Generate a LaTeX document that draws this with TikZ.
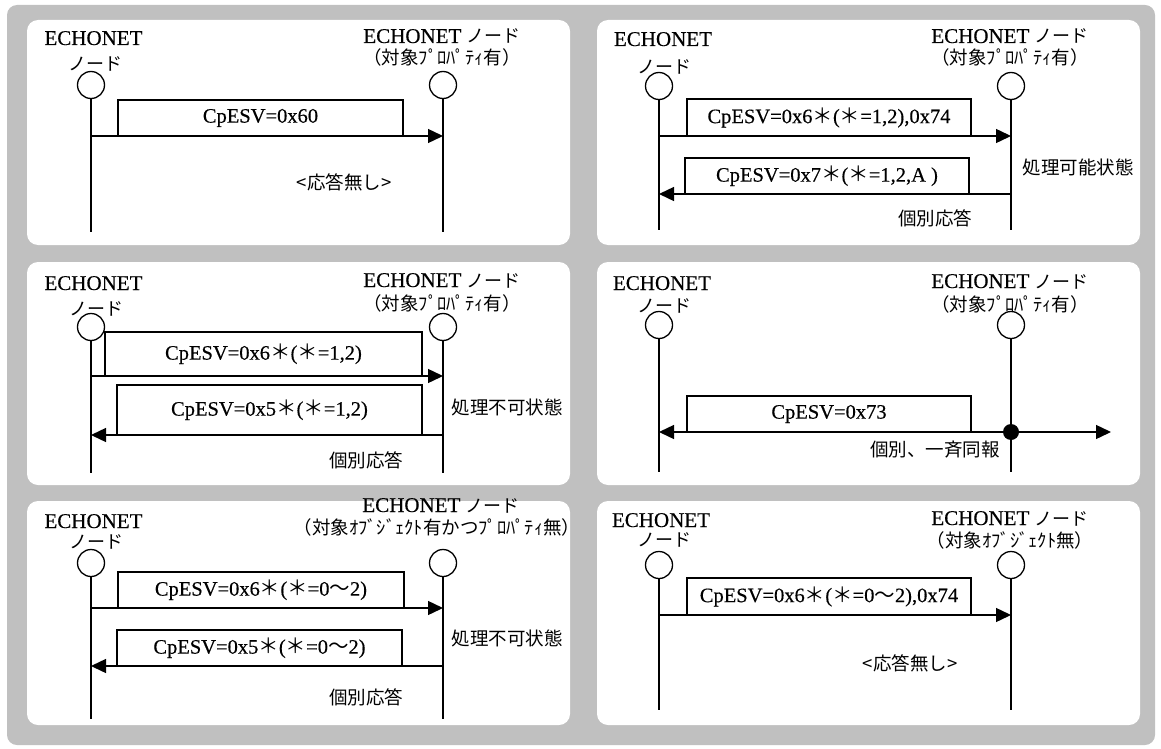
\documentclass[tikz,border=0pt]{standalone}
\usepackage{fontspec}
\setmainfont{Liberation Serif}[FakeBold=0.35]
\newfontfamily\jpf{Noto Sans CJK JP}
\usetikzlibrary{arrows.meta}
\definecolor{bggray}{RGB}{192,192,192}
\newcommand{\jpstar}{{\jpf ＊}}
\begin{document}
\begin{tikzpicture}[x=1pt,y=-1pt,
  panel/.style={fill=white, rounded corners=11pt},
  head/.style={draw, circle, line width=1.3pt, minimum size=27pt, inner sep=0pt, outer sep=0pt},
  life/.style={line width=1.4pt},
  msg/.style={draw, line width=1.3pt, inner sep=0pt, outer sep=0pt, anchor=south west, font=\fontsize{20.5}{22}\selectfont},
  msgarrow/.style={line width=1.4pt, -{Triangle[length=15pt,width=14pt]}},
  lat/.style={inner sep=0pt, anchor=base, font=\fontsize{21}{23}\selectfont},
  jhead/.style={inner sep=0pt, anchor=base, font=\jpf\fontsize{18}{20}\selectfont},
  jsub/.style={inner sep=0pt, anchor=base, font=\jpf\fontsize{18.5}{20}\selectfont},
  jnote/.style={inner sep=0pt, font=\jpf\fontsize{18.5}{20}\selectfont},
  bdot/.style={circle, fill, inner sep=0pt, minimum size=16pt}
]
\useasboundingbox (0,0) rectangle (1161,749);
\fill[white] (0,0) rectangle (1161,749);
\fill[bggray, rounded corners=10pt] (7,5) rectangle (1155,745);
% panels
\fill[panel] (27,20) rectangle (570,245);
\fill[panel] (597,20) rectangle (1140,245);
\fill[panel] (27,262) rectangle (570,485);
\fill[panel] (597,262) rectangle (1140,485);
\fill[panel] (27,501) rectangle (570,725);
\fill[panel] (597,501) rectangle (1140,725);

% ---------- Panel 1 ----------
\node[lat] (p1L) at (93.5,45) {ECHONET};
\node[jhead] (p1Lj) at (95,71) {ノード};
\node[lat] (p1R) at (442,43) {ECHONET {\jpf\fontsize{18}{20}\selectfont ノード}};
\node[jsub] (p1Rj) at (442,65) {（対象ﾌﾟﾛﾊﾟﾃｨ有）};
\node[head] (p1a) at (91,85) {};
\node[head] (p1b) at (443,85) {};
\coordinate (p1ae) at (91,232);
\coordinate (p1be) at (443,232);
\draw[life] (p1a) -- (p1ae);
\draw[life] (p1b) -- (p1be);
\node[msg, minimum width=285pt, minimum height=36pt] (p1m) at (118,136) {CpESV=0x60};
\draw[msgarrow] (p1a |- p1m.south) -- (p1b |- p1m.south);
\node[jnote] (p1n) at (344,182) {<応答無し>};

% ---------- Panel 2 ----------
\node[lat] (p2L) at (663,46) {ECHONET};
\node[jhead] (p2Lj) at (664,74) {ノード};
\node[lat] (p2R) at (1010,43) {ECHONET {\jpf\fontsize{18}{20}\selectfont ノード}};
\node[jsub] (p2Rj) at (1010,65) {（対象ﾌﾟﾛﾊﾟﾃｨ有）};
\node[head] (p2a) at (659,86) {};
\node[head] (p2b) at (1011,86) {};
\coordinate (p2ae) at (659,230);
\coordinate (p2be) at (1011,230);
\draw[life] (p2a) -- (p2ae);
\draw[life] (p2b) -- (p2be);
\node[msg, minimum width=284pt, minimum height=37pt] (p2m) at (687,136) {CpESV=0x6\jpstar(\jpstar=1,2),0x74};
\draw[msgarrow] (p2a |- p2m.south) -- (p2b |- p2m.south);
\node[jnote] (p2s) at (1078,167) {処理可能状態};
\node[msg, minimum width=284pt, minimum height=36pt] (p2r) at (685,194) {CpESV=0x7\jpstar(\jpstar=1,2,A )};
\draw[msgarrow] (p2b |- p2r.south) -- (p2a |- p2r.south);
\node[jnote] (p2n) at (935,218) {個別応答};

% ---------- Panel 3 ----------
\node[lat] (p3L) at (93.5,290) {ECHONET};
\node[jhead] (p3Lj) at (96,315) {ノード};
\node[lat] (p3R) at (442,287) {ECHONET {\jpf\fontsize{18}{20}\selectfont ノード}};
\node[jsub] (p3Rj) at (442,310) {（対象ﾌﾟﾛﾊﾟﾃｨ有）};
\node[head] (p3a) at (91,327) {};
\node[head] (p3b) at (443,327) {};
\coordinate (p3ae) at (91,473);
\coordinate (p3be) at (443,473);
\draw[life] (p3a) -- (p3ae);
\draw[life] (p3b) -- (p3be);
\node[msg, minimum width=317pt, minimum height=44pt] (p3m) at (105,376) {CpESV=0x6\jpstar(\jpstar=1,2)};
\draw[msgarrow] (p3a |- p3m.south) -- (p3b |- p3m.south);
\node[jnote] (p3s) at (507,407) {処理不可状態};
\node[msg, minimum width=305pt, minimum height=50pt] (p3r) at (117,435) {CpESV=0x5\jpstar(\jpstar=1,2)};
\draw[msgarrow] (p3b |- p3r.south) -- (p3a |- p3r.south);
\node[jnote] (p3n) at (366,460) {個別応答};

% ---------- Panel 4 ----------
\node[lat] (p4L) at (662,290) {ECHONET};
\node[jhead] (p4Lj) at (664,312) {ノード};
\node[lat] (p4R) at (1010,288) {ECHONET {\jpf\fontsize{18}{20}\selectfont ノード}};
\node[jsub] (p4Rj) at (1010,311) {（対象ﾌﾟﾛﾊﾟﾃｨ有）};
\node[head] (p4a) at (659,325) {};
\node[head] (p4b) at (1011,325) {};
\coordinate (p4ae) at (659,472);
\coordinate (p4be) at (1011,472);
\draw[life] (p4a) -- (p4ae);
\draw[life] (p4b) -- (p4be);
\node[msg, minimum width=284pt, minimum height=36pt] (p4m) at (687,432) {CpESV=0x73};
\node[bdot] (p4d) at (p4b |- p4m.south) {};
\coordinate (p4e) at (1111,432);
\draw[msgarrow] (p4d.center) -- (p4a |- p4m.south);
\draw[msgarrow] (p4d.center) -- (p4e);
\node[jnote] (p4n) at (935,450) {個別、一斉同報};

% ---------- Panel 5 ----------
\node[lat] (p5L) at (93.5,528) {ECHONET};
\node[jhead] (p5Lj) at (96,548) {ノード};
\node[lat] (p5R) at (441,512) {ECHONET {\jpf\fontsize{18}{20}\selectfont ノード}};
\node[jsub] (p5Rj) at (437,534) {（対象ｵﾌﾞｼﾞｪｸﾄ有かつﾌﾟﾛﾊﾟﾃｨ無）};
\node[head] (p5a) at (91,563) {};
\node[head] (p5b) at (443,563) {};
\coordinate (p5ae) at (91,719);
\coordinate (p5be) at (443,719);
\draw[life] (p5a) -- (p5ae);
\draw[life] (p5b) -- (p5be);
\node[msg, minimum width=286pt, minimum height=36pt] (p5m) at (118,608) {CpESV=0x6\jpstar(\jpstar=0{\jpf ～}2)};
\draw[msgarrow] (p5a |- p5m.south) -- (p5b |- p5m.south);
\node[jnote] (p5s) at (507,638) {処理不可状態};
\node[msg, minimum width=285pt, minimum height=36pt] (p5r) at (117,666) {CpESV=0x5\jpstar(\jpstar=0{\jpf ～}2)};
\draw[msgarrow] (p5b |- p5r.south) -- (p5a |- p5r.south);
\node[jnote] (p5n) at (366,697) {個別応答};

% ---------- Panel 6 ----------
\node[lat] (p6L) at (661,527) {ECHONET};
\node[jhead] (p6Lj) at (664,546) {ノード};
\node[lat] (p6R) at (1010,525) {ECHONET {\jpf\fontsize{18}{20}\selectfont ノード}};
\node[jsub] (p6Rj) at (1010,547) {（対象ｵﾌﾞｼﾞｪｸﾄ無）};
\node[head] (p6a) at (659,565) {};
\node[head] (p6b) at (1011,565) {};
\coordinate (p6ae) at (659,710);
\coordinate (p6be) at (1011,710);
\draw[life] (p6a) -- (p6ae);
\draw[life] (p6b) -- (p6be);
\node[msg, minimum width=284pt, minimum height=37pt] (p6m) at (687,615) {CpESV=0x6\jpstar(\jpstar=0{\jpf ～}2),0x74};
\draw[msgarrow] (p6a |- p6m.south) -- (p6b |- p6m.south);
\node[jnote] (p6n) at (910,663) {<応答無し>};
\end{tikzpicture}
\end{document}
